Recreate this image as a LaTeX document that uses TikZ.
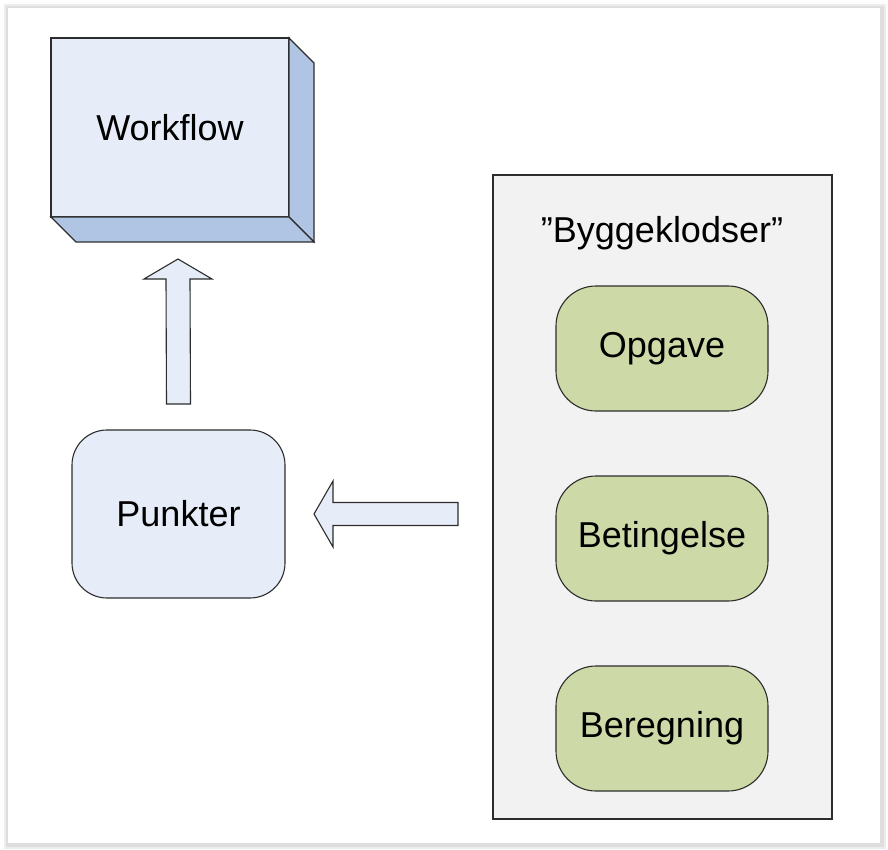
\documentclass[tikz,border=0pt]{standalone}
\usepackage{fontspec}
\setmainfont{Liberation Sans}
\usetikzlibrary{calc,positioning}

\definecolor{boxblue}{RGB}{231,237,248}
\definecolor{sideblue}{RGB}{176,197,228}
\definecolor{boxgreen}{RGB}{205,218,167}
\definecolor{panelgray}{RGB}{242,242,242}
\definecolor{edgegray}{RGB}{45,45,45}

\begin{document}
\begin{tikzpicture}[x=1pt,y=-1pt,line width=1.1pt]
        \tikzstyle{front}=[draw=edgegray,fill=boxblue,outer sep=0pt,minimum width=238pt,minimum height=179pt,font=\fontsize{36}{43}\selectfont]
        \tikzstyle{side}=[draw=edgegray,fill=sideblue]
        \tikzstyle{softbox}=[draw=edgegray,fill=boxblue,rounded corners=35pt,outer sep=0pt,minimum width=213pt,minimum height=168pt,font=\fontsize{36}{43}\selectfont]
        \tikzstyle{brick}=[draw=edgegray,fill=boxgreen,rounded corners=40pt,outer sep=0pt,minimum width=212pt,minimum height=125pt,font=\fontsize{36}{43}\selectfont]
        \tikzstyle{blockarrow}=[draw=edgegray,fill=boxblue,line join=miter]

        % frame with shadow
        \useasboundingbox (0,0) rectangle (888,850);
        \fill[black!7] (4,4) rectangle (886,849);
        \fill[black!13] (6,6) rectangle (884,847);
        \fill[white] (8,8) rectangle (880,843);

        % workflow block
        \node[front] (workflow) at (170,127.5) {Workflow};
        \draw[side] (workflow.north east) -- ++(25,25) -- ($(workflow.south east)+(25,25)$) -- (workflow.south east) -- cycle;
        \draw[side] (workflow.south west) -- ++(25,25) -- ($(workflow.south east)+(25,25)$) -- (workflow.south east) -- cycle;

        \node[softbox] (punkter) at (178.5,514) {Punkter};

        % building blocks panel
        \node[draw=edgegray,fill=panelgray,outer sep=0pt,minimum width=339pt,minimum height=644pt] (panel) at (662.5,497) {};
        \node[font=\fontsize{36}{43}\selectfont] (title) at (662,233) {”Byggeklodser”};
        \node[brick] (opgave) at (662,348.5) {Opgave};
        \node[brick,below=65pt of opgave] (betingelse) {Betingelse};
        \node[brick,below=65pt of betingelse] (beregning) {Beregning};

        % block arrows
        \coordinate (upfoot) at ($(punkter.north)+(0,-26)$);
        \coordinate (uptip) at (178,259);
        \draw[blockarrow] ($(upfoot)+(-12,0)$) -- ($(upfoot)+(12,0)$) -- ($(uptip)+(12,20)$) -- ($(uptip)+(34,20)$)
                -- (uptip) -- ($(uptip)+(-34,20)$) -- ($(uptip)+(-12,20)$) -- cycle;

        \coordinate (lefttip) at ($(punkter.east)+(29,0)$);
        \coordinate (leftfoot) at (458,514);
        \draw[blockarrow] ($(leftfoot)+(0,-11.5)$) -- ($(leftfoot)+(0,11.5)$) -- ($(lefttip)+(19,11.5)$) -- ($(lefttip)+(19,33)$)
                -- (lefttip) -- ($(lefttip)+(19,-33)$) -- ($(lefttip)+(19,-11.5)$) -- cycle;
\end{tikzpicture}
\end{document}
